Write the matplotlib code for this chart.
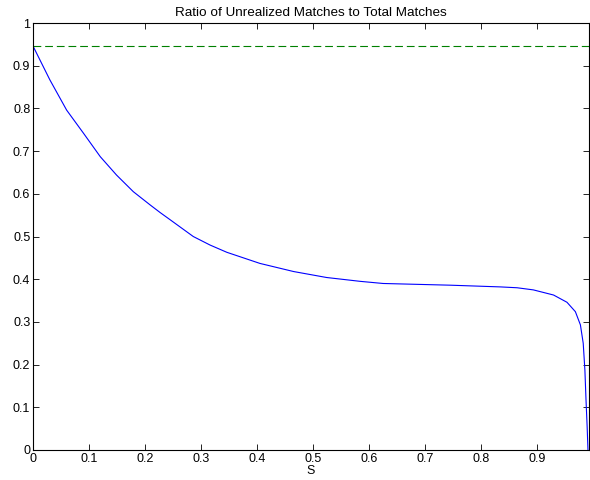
import matplotlib
matplotlib.use('Agg')
import matplotlib.pyplot as plt

# values
s = [0.0, 0.030, 0.060, 0.090, 0.120, 0.149, 0.179, 0.209, 0.227, 0.245,
     0.286, 0.316, 0.346, 0.405, 0.465, 0.524, 0.584, 0.625, 0.745, 0.834, 0.864,
     0.893, 0.929, 0.953, 0.968, 0.977, 0.982, 0.985, 0.987, 0.989, 0.9905]
ratio = [0.946, 0.867, 0.796, 0.742, 0.687, 0.644, 0.605, 0.574, 0.556, 0.539,
         0.500, 0.480, 0.463, 0.437, 0.418, 0.404, 0.395, 0.390, 0.386, 0.382, 0.380,
         0.375, 0.363, 0.346, 0.324, 0.293, 0.250, 0.187, 0.117, 0.055, 0.0]
ref_level = 0.946

plt.rcParams['font.family'] = ['Liberation Sans', 'DejaVu Sans']
plt.rcParams['font.size'] = 9

fig = plt.figure(figsize=(5.9, 4.8), dpi=100)
ax = fig.add_axes([0.056, 0.0625, 0.942, 0.8895])

ax.plot(s, ratio, color='#0000ff', linewidth=0.8)
ax.axhline(ref_level, color='#008000', linewidth=0.8, linestyle=(0, (7, 3.5)))

ax.set_xlim(0, 0.992)
ax.set_ylim(0, 1)
ax.set_xticks([0, 0.1, 0.2, 0.3, 0.4, 0.5, 0.6, 0.7, 0.8, 0.9])
ax.set_xticklabels(['0', '0.1', '0.2', '0.3', '0.4', '0.5', '0.6', '0.7', '0.8', '0.9'])
ax.set_yticks([0, 0.1, 0.2, 0.3, 0.4, 0.5, 0.6, 0.7, 0.8, 0.9, 1])
ax.set_yticklabels(['0', '0.1', '0.2', '0.3', '0.4', '0.5', '0.6', '0.7', '0.8', '0.9', '1'])
ax.tick_params(direction='in', top=True, right=True, length=4, width=0.6, pad=2)
for sp in ax.spines.values():
    sp.set_linewidth(0.8)

ax.set_xlabel('S', labelpad=0)
ax.set_title('Ratio of Unrealized Matches to Total Matches', fontsize=9.7, pad=5)

fig.savefig('out.png', dpi=100)
